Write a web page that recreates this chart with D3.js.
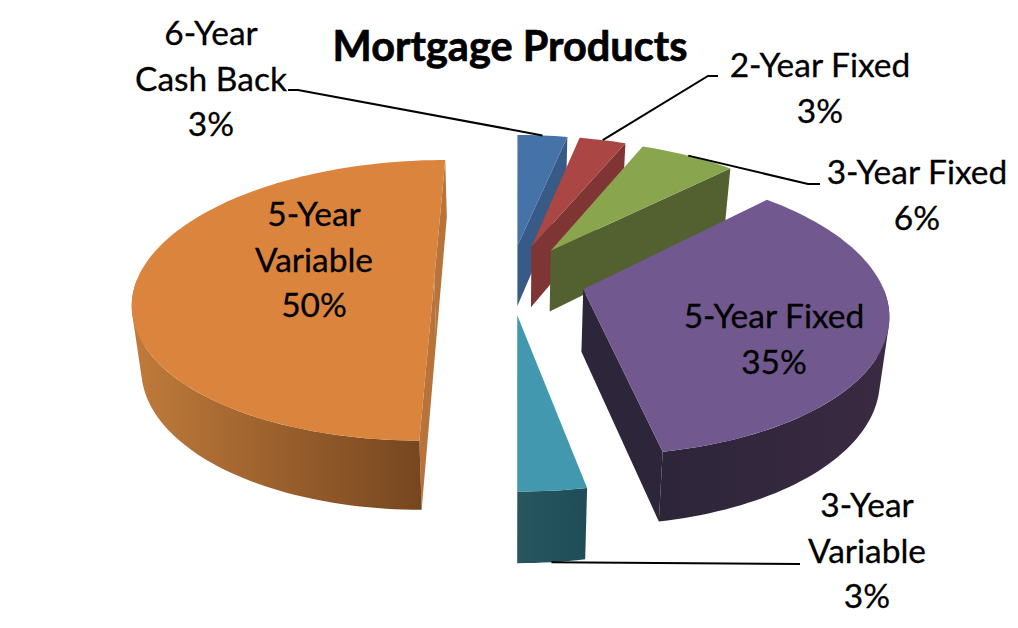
<!DOCTYPE html>
<html><head><meta charset="utf-8">
<script src="https://cdn.jsdelivr.net/npm/d3@7"></script>
<style>html,body{margin:0;padding:0;background:#fff}svg{display:block}text{font-family:Lato,"Open Sans",sans-serif;fill:#000}</style>
</head><body><svg id="c" width="1018" height="628"></svg>
<script>
// data
const titleText = "Mortgage Products";
const categories = ["6-Year Cash Back","2-Year Fixed","3-Year Fixed","5-Year Fixed","3-Year Variable","5-Year Variable"];
const shares = [3.2,3.0,6.2,34.55,3.05,50.0];
// styles
const topColors = ["#4572a7","#aa4643","#89a54e","#71588f","#4198af","#db843d"];
const wallColors = ["#375a86","#7f3533","#536030","#2d2539","#25555f","#b8733a"];
const rimLeft = ["#375a86","#7f3533","#536030","#2d2539","#27565f","#c07b3a"];
const rimRight = ["#375a86","#7f3533","#536030","#3a2a42","#1f4c58","#764620"];
// label layout: text lines, centre x, first line centre y, leader points
const labelLines = [["6-Year","Cash Back"],["2-Year Fixed"],["3-Year Fixed"],["5-Year Fixed"],["3-Year","Variable"],["5-Year","Variable"]];
const labelX = [211,820,917,774,867,314];
const labelY = [32,64,171,315,504,213];
const leaderPts = [[[298,90],[288,90]],[[708,76],[718,76]],[[808,184],[820,184]],null,[[800,564]],null];
const leaderLevel = ["top","top","top",null,"bottom",null];

const W=1018,H=628,cx=510,cy=279,R=297,Ry=137,persp=0.153,explode=0.255,lineGap=45.7;
const rad=d=>d*Math.PI/180;
const svg=d3.select("#c");
const defs=svg.append("defs");
const arcs=d3.pie().sort(null).value(d=>d).startAngle(rad(0.2)).endAngle(rad(360.2))(shares);

function project(mid,ang,r,level){
  const X=explode*Math.sin(mid)+r*Math.sin(ang), Z=-explode*Math.cos(mid)-r*Math.cos(ang);
  const w=1/(1-persp*Z);
  let x=cx+X*R*w, y=cy+Z*Ry*w;
  if(level==="bottom"){ y+=62+0.045*(y-cy); x=cx+(x-cx)*0.975; }
  return [x,y];
}
const line=d3.line();
function samples(a0,a1){const n=Math.max(2,Math.ceil((a1-a0)/rad(1.5)));return d3.range(n+1).map(i=>a0+(a1-a0)*i/n);}
const cross=(a,b,c)=>(b[0]-a[0])*(c[1]-b[1])-(b[1]-a[1])*(c[0]-b[0]);

// paint back to front
const order=[5,0,1,2,3,4];
order.forEach(i=>{
  const a=arcs[i],mid=(a.startAngle+a.endAngle)/2,g=svg.append("g");
  const wall=(ang,isEnd)=>{
    const p=[project(mid,0,0,"top"),project(mid,ang,1,"top"),project(mid,ang,1,"bottom"),project(mid,0,0,"bottom")];
    const c=cross(p[0],p[1],p[2]);
    if(isEnd? c>0 : c<0) g.append("path").attr("d",line(p)+"Z").attr("fill",wallColors[i]);
  };
  wall(a.startAngle,false); wall(a.endAngle,true);
  const lo=Math.max(a.startAngle,rad(90)),hi=Math.min(a.endAngle,rad(270));
  if(hi>lo){
    const as=samples(lo,hi);
    const all=as.map(t=>project(mid,t,1,"top")).concat(as.map(t=>project(mid,t,1,"bottom")));
    const xs=d3.extent(all,p=>p[0]);
    const id="grad"+i;
    const gr=defs.append("linearGradient").attr("id",id).attr("gradientUnits","userSpaceOnUse")
      .attr("x1",xs[0]).attr("x2",xs[1]).attr("y1",0).attr("y2",0);
    gr.append("stop").attr("offset",0).attr("stop-color",rimLeft[i]);
    gr.append("stop").attr("offset",1).attr("stop-color",rimRight[i]);
    // all quads in a single path with one winding: the union keeps the silhouette and has no seams
    const d=d3.pairs(as).map(([t0,t1])=>{
      const q=[project(mid,t0,1,"top"),project(mid,t1,1,"top"),project(mid,t1,1,"bottom"),project(mid,t0,1,"bottom")];
      return line(d3.polygonArea(q)<0?q.reverse():q)+"Z";
    }).join("");
    g.append("path").attr("d",d).attr("fill-rule","nonzero").attr("fill",`url(#${id})`);
  }
  const top=[project(mid,0,0,"top")].concat(samples(a.startAngle,a.endAngle).map(t=>project(mid,t,1,"top")));
  g.append("path").attr("d",line(top)+"Z").attr("fill",topColors[i]);
});

// leaders
arcs.forEach((a,i)=>{
  if(!leaderPts[i])return;
  const mid=(a.startAngle+a.endAngle)/2;
  const start=project(mid,mid,1,leaderLevel[i]);
  svg.append("path").attr("d",line([start].concat(leaderPts[i]))).attr("fill","none").attr("stroke","#000").attr("stroke-width",2);
});

// labels
const pct=d3.format(".0f");
arcs.forEach((a,i)=>{
  const rows=labelLines[i].concat([pct(a.value)+"%"]);
  rows.forEach((t,k)=>{
    svg.append("text").attr("x",labelX[i]).attr("y",labelY[i]+k*lineGap)
      .attr("text-anchor","middle").attr("dominant-baseline","central")
      .attr("font-size",33.5).attr("stroke","#000").attr("stroke-width",0.3).text(t);
  });
});
svg.append("text").attr("x",510).attr("y",45).attr("text-anchor","middle").attr("dominant-baseline","central")
  .attr("font-size",41.5).attr("font-weight",700).attr("stroke","#000").attr("stroke-width",0.7).text(titleText);
</script></body></html>
